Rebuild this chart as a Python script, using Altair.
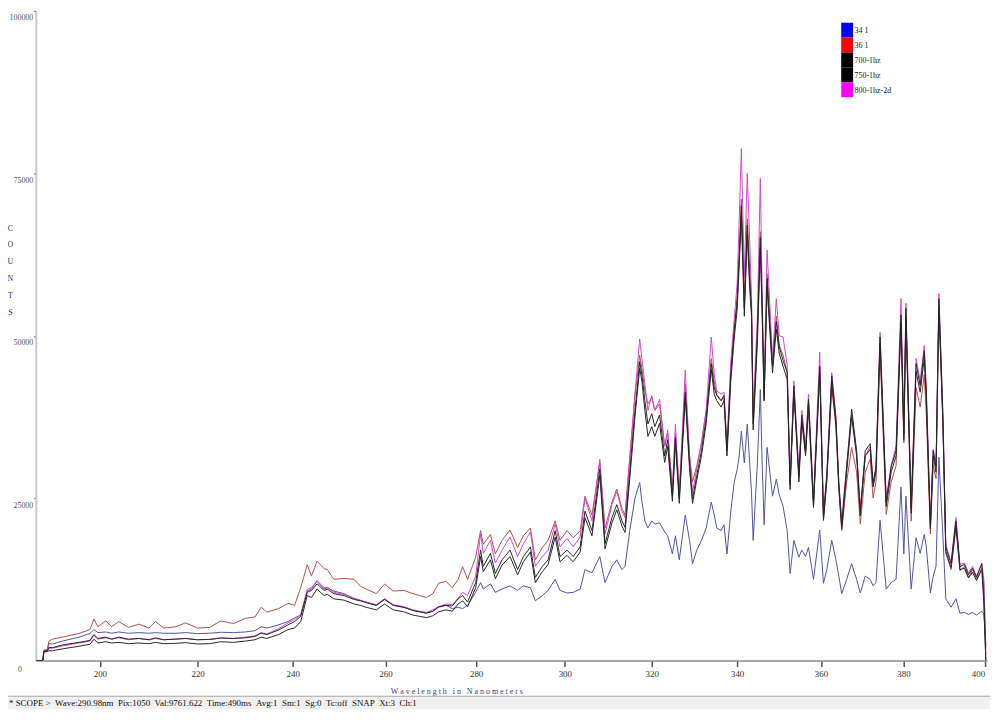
import altair as alt
import pandas as pd

wavelength = [187.3, 188.6, 188.8, 189.5, 189.8, 190.5, 192.5, 195.8, 198.0, 198.8,
              199.6, 201.2, 202.4, 203.8, 205.8, 207.9, 210.0, 211.3, 213.0, 215.5,
              217.5, 220.0, 222.5, 224.8, 227.5, 230.0, 232.0, 233.3, 234.5, 237.0,
              239.0, 240.4, 241.7, 243.1, 244.0, 245.2, 246.7, 247.4, 248.8, 251.0,
              253.2, 254.5, 255.8, 258.0, 259.8, 261.7, 264.0, 266.0, 267.5, 269.0,
              270.4, 271.7, 273.3, 274.7, 276.0, 277.0, 278.1, 279.9, 281.0, 281.6,
              283.2, 284.3, 285.8, 287.6, 289.3, 290.6, 292.2, 293.3, 294.9, 296.2,
              297.8, 298.9, 300.5, 301.9, 303.5, 304.6, 306.2, 308.0, 309.2, 310.8,
              311.9, 313.1, 313.8, 314.9, 316.1, 317.2, 317.7, 318.4, 319.1, 320.0,
              320.7, 321.8, 323.0, 323.7, 324.8, 325.5, 326.4, 327.8, 328.8, 329.5,
              330.5, 331.6, 332.7, 333.9, 334.6, 335.2, 336.2, 336.9, 337.6, 338.5,
              339.3, 340.0, 340.5, 341.0, 341.7, 342.4, 343.0, 343.4, 343.8, 344.8,
              345.5, 345.9, 346.4, 347.1, 348.4, 349.3, 350.0, 350.9, 351.9, 352.6,
              353.5, 354.7, 355.4, 356.3, 357.0, 358.2, 359.7, 360.6, 361.4, 362.6,
              363.6, 364.3, 365.0, 366.2, 367.4, 368.6, 369.5, 370.7, 371.9, 372.6,
              373.3, 374.3, 375.8, 377.0, 378.2, 379.4, 380.1, 380.6, 381.9, 383.1,
              384.1, 385.1, 385.6, 386.6, 387.3, 388.0, 388.7, 389.7, 390.4, 391.7,
              392.9, 393.9, 395.0, 396.0, 397.0, 398.0, 399.3, 399.8, 400.3]

counts_34_1 = [0, 0, 1500, 1600, 2600, 2550, 3000, 3600, 4170, 4770,
               4300, 4400, 4200, 4400, 4200, 4300, 4200, 4300, 4200, 4200,
               4300, 4150, 4200, 4350, 4300, 4400, 4600, 5200, 5000, 5500,
               6000, 6550, 7000, 10700, 11000, 12200, 11000, 11200, 10700, 10300,
               9500, 9240, 9000, 8500, 9500, 8500, 8200, 7750, 7500, 7300,
               7600, 8200, 8500, 8000, 8200, 8000, 8500, 10500, 12000, 11000,
               11800, 10500, 11000, 11500, 10800, 11500, 11200, 9200, 10000, 10800,
               12500, 10800, 10400, 10500, 11000, 14000, 13500, 16000, 12000, 14500,
               15500, 14000, 14500, 20000, 25000, 27400, 24500, 21500, 20400, 21500,
               21000, 21200, 19800, 19200, 16400, 19200, 15500, 22400, 18500, 14900,
               17000, 18500, 20400, 24400, 22400, 20400, 20000, 20900, 16400, 23000,
               27400, 29400, 31500, 35300, 30400, 36400, 30000, 26000, 18500, 30400,
               41700, 31000, 20900, 32800, 25300, 27900, 25500, 23800, 20000, 13400,
               18500, 15900, 17000, 16000, 17400, 12500, 20100, 11900, 14000, 18500,
               15500, 13000, 10300, 12500, 14900, 12500, 10400, 13000, 12500, 11500,
               12000, 21600, 11000, 12000, 12500, 26700, 16400, 25300, 11000, 18900,
               16500, 19400, 17500, 10400, 13000, 14500, 31300, 19000, 9500, 8200,
               9500, 7300, 7400, 7100, 7400, 7000, 7600, 7200, 2500]

counts_36_1 = [0, 0, 1600, 1700, 3000, 3300, 3600, 4170, 4770, 6400,
               5200, 6100, 5200, 6000, 5100, 5600, 5000, 6000, 5000, 5200,
               5800, 5000, 5100, 6100, 5700, 6500, 6700, 8200, 7450, 8000,
               8800, 8500, 11200, 14750, 13000, 15300, 14150, 14000, 12500, 12650,
               12500, 11470, 11000, 10300, 11770, 10700, 10800, 10300, 10000, 9700,
               10300, 11900, 12200, 11200, 12500, 14450, 12500, 15900, 20000, 17900,
               19400, 16400, 18500, 20100, 17400, 19200, 20400, 15500, 17400, 18500,
               21500, 18500, 20000, 18900, 20000, 25300, 22400, 30500, 20400, 24400,
               26400, 23400, 22400, 31300, 40800, 47000, 45000, 41500, 39500, 40500,
               38500, 39500, 33000, 35000, 26500, 35000, 26000, 42500, 31500, 27500,
               30000, 33500, 38500, 46500, 43000, 41000, 40000, 40500, 33000, 45000,
               51000, 56000, 63000, 71000, 56000, 68000, 60000, 55000, 37500, 51000,
               66000, 56000, 40000, 59500, 45500, 53000, 48500, 47000, 44500, 27500,
               42000, 28500, 37000, 32000, 39000, 23500, 45000, 21500, 28000, 42000,
               36000, 26500, 20000, 27500, 32800, 29000, 21000, 29000, 31000, 25000,
               27500, 47500, 22500, 27500, 30000, 52000, 33500, 52500, 21500, 42000,
               39000, 44000, 38000, 19500, 30000, 28000, 54500, 36000, 16500, 14000,
               20500, 13800, 14500, 12800, 14000, 12500, 14200, 12000, 2000]

counts_700_1hz = [0, 0, 1400, 1500, 2000, 2000, 2400, 2800, 3100, 4000,
                  3400, 3600, 3300, 3600, 3300, 3400, 3200, 3500, 3200, 3300,
                  3400, 3200, 3250, 3450, 3400, 3500, 3700, 4200, 4000, 4700,
                  5500, 6000, 6800, 10500, 10800, 11800, 10800, 11000, 10300, 10000,
                  9400, 9200, 8900, 8500, 9400, 8500, 8200, 7700, 7500, 7300,
                  7600, 8300, 8500, 8400, 9500, 10000, 9000, 12000, 17000, 14500,
                  16500, 13400, 15500, 17000, 14000, 16000, 17500, 12800, 14500, 15500,
                  20000, 16000, 17000, 16000, 17500, 23000, 20000, 29500, 18000, 22000,
                  24000, 21500, 20500, 29000, 38500, 46000, 44000, 40000, 36400, 38000,
                  36000, 37800, 31500, 34000, 25300, 34300, 24900, 41300, 30400, 24900,
                  28500, 32300, 37300, 45700, 42000, 40800, 40000, 40800, 32300, 44000,
                  50700, 55100, 62000, 70000, 54200, 67000, 58000, 54200, 36400, 50200,
                  65100, 55100, 40800, 58800, 45300, 52200, 48300, 46200, 44300, 27000,
                  42300, 28300, 37800, 32300, 40200, 24400, 45300, 22400, 28300, 43800,
                  37250, 27400, 20900, 29800, 38700, 32300, 22900, 32300, 33400, 27400,
                  29800, 49800, 24400, 29800, 32300, 53200, 34900, 54200, 23400, 45700,
                  42300, 47700, 41300, 20900, 32300, 29800, 55700, 37250, 17400, 14900,
                  21500, 14450, 14800, 13200, 14200, 12800, 14900, 10000, 0]

counts_750_1hz = [0, 0, 1300, 1400, 1500, 1500, 1800, 2200, 2500, 3280,
                  2700, 2900, 2700, 2800, 2600, 2700, 2600, 2800, 2600, 2650,
                  2750, 2550, 2600, 2900, 2800, 3000, 3200, 3600, 3400, 4000,
                  4770, 5000, 6000, 10000, 9700, 11000, 10000, 10200, 9500, 9300,
                  8700, 8500, 8200, 7800, 8700, 7800, 7500, 7000, 6800, 6600,
                  6900, 7500, 7800, 7600, 8700, 9200, 8300, 11200, 16000, 13700,
                  15500, 12600, 14700, 16000, 13200, 15200, 16700, 12000, 13700, 14800,
                  19000, 15200, 16200, 15200, 16700, 22000, 19200, 28500, 17200, 21200,
                  23200, 20700, 19700, 28000, 37500, 45000, 43000, 38500, 34500, 36000,
                  34500, 36500, 30500, 33000, 24500, 33500, 24200, 40500, 29500, 24200,
                  27800, 31500, 36500, 44800, 41000, 40000, 39000, 40000, 31500, 43000,
                  49500, 54000, 61000, 68500, 53000, 65500, 57000, 53000, 35500, 49000,
                  63500, 54000, 40000, 57500, 44300, 51000, 47300, 45300, 43300, 26300,
                  41300, 27500, 37000, 31500, 39300, 23700, 44300, 21700, 27500, 42800,
                  36300, 26600, 20300, 29000, 37500, 31500, 22300, 31500, 32500, 26700,
                  29000, 48800, 23700, 29000, 31500, 52000, 34000, 53000, 22700, 44500,
                  41300, 46500, 40300, 20300, 31500, 29000, 54500, 36300, 16800, 14300,
                  20800, 14000, 14200, 12700, 13600, 12300, 14000, 9000, 0]

counts_800_1hz_2d = [0, 0, 1400, 1500, 1900, 1900, 2250, 2700, 3000, 3870,
                     3300, 3500, 3300, 3500, 3200, 3400, 3200, 3400, 3200, 3300,
                     3400, 3200, 3250, 3500, 3400, 3600, 3800, 4300, 4100, 4900,
                     5800, 6300, 7000, 11000, 11200, 12300, 11200, 11300, 10500, 10200,
                     9600, 9300, 9000, 8600, 9500, 8600, 8300, 7800, 7600, 7400,
                     7800, 8300, 8700, 8600, 9600, 10500, 10000, 13000, 19500, 16500,
                     18500, 15000, 17000, 19000, 16000, 18000, 19800, 14500, 16000, 17000,
                     21000, 17500, 18800, 17500, 19000, 25000, 21500, 31000, 19500, 24000,
                     26000, 23000, 22000, 31000, 41000, 49500, 46500, 42500, 38500, 40800,
                     38500, 40200, 33000, 35500, 26000, 36400, 25500, 44700, 31500, 26000,
                     29500, 33500, 38500, 49800, 44000, 41500, 41000, 41300, 33000, 46000,
                     52500, 58000, 68000, 78800, 59000, 75000, 64000, 56000, 38000, 53000,
                     74200, 58000, 42000, 63200, 46500, 55700, 50000, 49800, 45500, 27500,
                     43000, 29000, 38500, 32800, 41000, 24800, 47500, 22800, 28800, 44300,
                     37500, 27500, 21500, 30000, 38000, 32000, 23500, 31500, 33000, 27000,
                     29500, 50500, 25000, 30000, 33000, 55700, 35500, 55000, 24000, 46500,
                     43000, 48500, 42000, 21500, 32500, 30500, 56500, 38000, 17800, 15200,
                     22000, 14800, 15000, 13500, 14500, 13000, 15000, 12500, 1000]

series_names = ["34 1", "36 1", "700-1hz", "750-1hz", "800-1hz-2d"]
legend_colors = ["#0000ff", "#ff0000", "#000000", "#000000", "#ff00ff"]
line_colors = ["#5252a8", "#b84c4c", "#262626", "#262626", "#d048d0"]
draw_order = ["34 1", "36 1", "800-1hz-2d", "750-1hz", "700-1hz"]
x_ticks = [200, 220, 240, 260, 280, 300, 320, 340, 360, 380, 400]
y_ticks = [25000, 50000, 75000, 100000]
y_title_letters = ["C", "O", "U", "N", "T", "S"]
NB = "\u00a0"
x_title = NB.join("Wavelength") + NB * 3 + NB.join("in") + NB * 3 + NB.join("Nanometers")
status_text = NB.join(["*", "SCOPE", ">", "", "Wave:290.98nm", "", "Pix:1050", "", "Val:9761.622", "",
                       "Time:490ms", "", "Avg:1", "", "Sm:1", "", "Sg:0", "", "Tc:off", "", "SNAP",
                       "", "Xt:3", "", "Ch:1"])

W, H = 959, 655

all_values = [counts_34_1, counts_36_1, counts_700_1hz, counts_750_1hz, counts_800_1hz_2d]
rows = []
for name, vals in zip(series_names, all_values):
    for w, v in zip(wavelength, vals):
        rows.append({"wavelength": w, "counts": v, "series": name})
df = pd.DataFrame(rows)

serif = "Liberation Serif"

x_axis = alt.Axis(
    values=x_ticks, format="d", title=x_title,
    titleFont=serif, titleFontSize=8, titleFontWeight="normal", titleColor="#3a3a8a",
    titleX=424, titleY=31, titleAlign="center", titleBaseline="middle",
    labelFont=serif, labelFontSize=9, labelColor="#333333", labelPadding=3,
    labelFlush=4, labelOverlap=False,
    tickSize=6, tickColor="#555555", tickWidth=1.5,
    domainColor="#8a8a8a", domainWidth=1.5, grid=False,
)
y_axis = alt.Axis(
    values=y_ticks, format="d", title=y_title_letters,
    titleFont=serif, titleFontSize=8, titleFontWeight="normal", titleColor="#2a2a6a",
    titleAngle=0, titleX=-26, titleY=215, titleAlign="center", titleBaseline="top",
    titleLineHeight=17,
    labelFont=serif, labelFontSize=8, labelColor="#555555", labelPadding=1,
    labelBaseline="middle", labelOffset=7, labelFlush=False, labelOverlap=False,
    tickSize=2, tickColor="#333333",
    domainColor="#c8c8c8", domainWidth=2, grid=False,
)

base = alt.Chart(df).encode(
    x=alt.X("wavelength:Q",
            scale=alt.Scale(type="pow", exponent=0.7, domain=[187.2, 400.6], zero=False, nice=False),
            axis=x_axis),
    y=alt.Y("counts:Q", scale=alt.Scale(domain=[0, 100000], nice=False, zero=True), axis=y_axis),
)

line_layers = [
    base.transform_filter(alt.datum.series == s).mark_line(strokeWidth=1, clip=True).encode(
        stroke=alt.Stroke("series:N", scale=alt.Scale(domain=series_names, range=line_colors), legend=None)
    )
    for s in draw_order
]

# legend box (top right of the plot): one swatch + label per series, stacked
LEG_X, LEG_Y, LEG_ROW = 811, 12, 15
legend_df = pd.DataFrame({
    "label": series_names,
    "swatch": legend_colors,
    "top": [LEG_Y + i * LEG_ROW for i in range(len(series_names))],
    "bottom": [LEG_Y + (i + 1) * LEG_ROW for i in range(len(series_names))],
    "mid": [LEG_Y + i * LEG_ROW + 8.5 for i in range(len(series_names))],
})
legend_swatches = alt.Chart(legend_df).mark_rect().encode(
    x=alt.value(LEG_X + 1), x2=alt.value(LEG_X + 13),
    y=alt.Y("top:Q", scale=None), y2="bottom:Q",
    fill=alt.Fill("swatch:N", scale=None),
)
legend_labels = alt.Chart(legend_df).mark_text(
    align="left", baseline="middle", font=serif, fontSize=8, color="#222222"
).encode(
    x=alt.value(LEG_X + 14.5), y=alt.Y("mid:Q", scale=None), text="label:N"
)

status_df = pd.DataFrame({"text": [status_text]})
band = alt.Chart(status_df).mark_rect(color="#f0f0f0").encode(
    x=alt.value(-28), x2=alt.value(W + 3), y=alt.value(H + 36), y2=alt.value(H + 49)
)
sep = alt.Chart(status_df).mark_rule(color="#a8a8a8", strokeWidth=1).encode(
    x=alt.value(-28), x2=alt.value(W + 3), y=alt.value(H + 36)
)
status = alt.Chart(status_df).mark_text(
    align="left", baseline="middle", font=serif, fontSize=9, color="#111111"
).encode(x=alt.value(-27), y=alt.value(H + 43), text="text:N")

zero_label = alt.Chart(pd.DataFrame({"t": ["0"]})).mark_text(
    align="center", baseline="middle", font=serif, fontSize=8, color="#555555"
).encode(x=alt.value(-16), y=alt.value(H + 10), text="t:N")

chart = alt.layer(
    band, sep, status, zero_label, *line_layers, legend_swatches, legend_labels
).properties(
    width=W, height=H,
    padding={"left": 28, "top": 0, "right": 3, "bottom": 49},
    autosize=alt.AutoSizeParams(type="none"),
    background="white",
).configure_view(stroke=None)

chart.save("out.html", embed_options={"renderer": "svg", "actions": False})
